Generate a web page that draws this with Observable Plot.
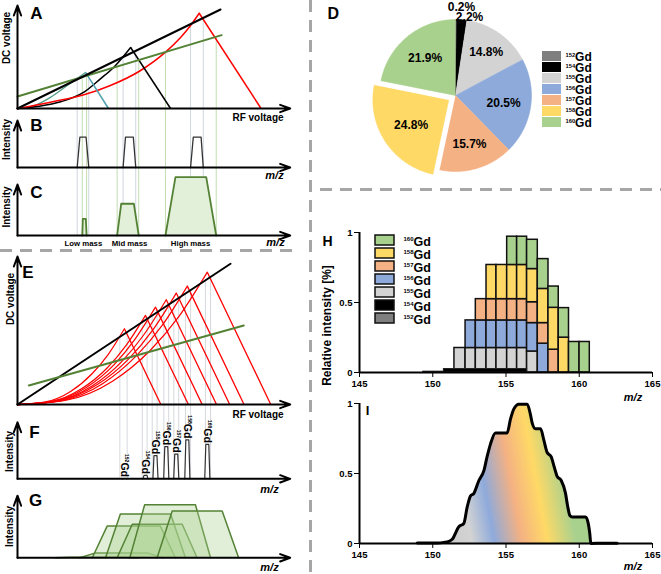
<!DOCTYPE html>
<html><head><meta charset="utf-8">
<script src="https://cdn.jsdelivr.net/npm/d3@7"></script>
<script src="https://cdn.jsdelivr.net/npm/@observablehq/plot@0.6"></script>
<style>
body{margin:0;background:#fff;}
#fig{position:relative;width:661px;height:574px;overflow:hidden;background:#fff;font-family:"Liberation Sans",Arial,sans-serif;}
#fig svg{position:absolute;overflow:visible;}
.dh{position:absolute;height:3px;background:repeating-linear-gradient(to right,#a6a6a6 0 12px,transparent 12px 20px);}
.dv{position:absolute;width:3px;background:repeating-linear-gradient(to bottom,#a6a6a6 0 12px,transparent 12px 20px);}
</style></head>
<body><div id="fig">
<div class="dh" style="left:0;top:249px;width:300px"></div>
<div class="dv" style="left:309px;top:0;height:574px"></div>
<div class="dh" style="left:320px;top:188px;width:341px"></div>
</div>
<script>
// ---------------- data ----------------
const isotopes = ["152Gd","154Gd","155Gd","156Gd","157Gd","158Gd","160Gd"];
const massNumbers = ["152","154","155","156","157","158","160"];
const abundance = [0.2, 2.2, 14.8, 20.5, 15.7, 24.8, 21.9];
const isoColor = {"152Gd":"#7f7f7f","154Gd":"#000000","155Gd":"#d3d3d3","156Gd":"#8eaadb","157Gd":"#f4b183","158Gd":"#ffd966","160Gd":"#a9d18e"};

// Panel A (RF voltage units, DC voltage units)
const aScanLine = [[0,0],[75.2,96.1]];
const aMassLine = [[0,11.7],[75.6,71.2]];
const aLowRise = [[0,0],[6,2.5],[12.2,10.8],[18.4,22.3],[25.2,35]];
const aMidRise = [[0,0],[8,2.2],[16,6.5],[24.6,15.9],[30.7,28.8],[35.7,40.1],[41.9,59.2]];
const aHighRise = [[0,0],[12.2,6.1],[24.6,13.3],[34.4,22.3],[45.6,36.9],[54.8,54.7],[60.4,69],[64.1,80.6],[67.3,92.5]];
const aFallEnd = [33.7, 56.7, 90.2];
const narrowGuideX = [22.1,26.4,39.1,43.8,64.1,68.8];
const narrowGuideTop = [28.2,33.7,50.0,56.0,81.9,87.9];
const wideGuideX = [24.0,25.6,36.9,44.9,54.8,73.6];
const wideGuideTop = [30.6,31.9,40.7,47.0,54.8,69.6];
// Panel B / C windows [base-left, top-left, top-right, base-right]
const bWindows = [[22.1,23.1,25.4,26.4],[39.1,40.0,42.9,43.8],[64.1,65.1,68.0,68.8]];
const bHeight = [64.5,64.5,64.5];
const cWindows = [[24.0,24.2,25.3,25.6],[36.9,38.4,43.1,44.9],[54.8,58.5,69.9,73.6]];
const cHeight = [32.7,62.2,114.3];
const cLabels = ["Low mass","Mid mass","High mass"];
const cLabelX = [24.4,41.5,64.1];

// Panel E
const eScanLine = [[0,0],[78.9,97]];
const eMassLine = [[4.2,13.1],[83.8,54.5]];
const eApexU = [39.6,47.4,51.1,55.1,58.8,62.9,70.3];
const eApexV = [52.2,61.4,67.1,72.2,76.8,81.6,91.2];
const eEndU = [53.1,63.3,68.4,73.7,78.6,83.9,93.8];
const eRise = [
  [[0,0],[9.9,1.6],[19.8,9.2],[27.7,21.4],[33.7,34.8],[39.6,52.2]],
  [[0,0],[11.9,1.9],[23.7,10.9],[33.2,25.2],[40.3,40.9],[47.4,61.4]],
  [[0,0],[12.8,2.1],[25.6,11.9],[35.8,27.5],[43.4,44.7],[51.1,67.1]],
  [[0,0],[13.8,2.2],[27.6,12.8],[38.6,29.6],[46.8,48.1],[55.1,72.2]],
  [[0,0],[14.7,2.4],[29.4,13.6],[41.2,31.5],[50,51.1],[58.8,76.8]],
  [[0,0],[15.7,2.5],[31.5,14.4],[44,33.5],[53.5,54.3],[62.9,81.6]],
  [[0,0],[17.6,2.8],[35.2,16.1],[49.2,37.4],[59.8,60.7],[70.3,91.2]]
];
const eGuideX = [37.9,40.6,46.2,48.0,49.9,51.7,54.2,56.0,57.9,59.7,62.2,64.1,69.6,71.5];
const eGuideTop = [46.9,50.3,57.2,59.4,61.8,64.0,67.1,69.3,71.7,73.9,77.0,79.4,86.2,88.5];
// Panel G windows
const gWindows = [[13.9,19.5,39.3,44.8],[23.1,28.6,48.4,53.9],[27.7,33.2,52.9,58.5],[32.6,38.1,56.7,62.2],[36.9,42.5,61,66.5],[41.6,47.1,65.9,71.5],[51.7,57.3,75.8,81.9]];

// Panel H (stacked histogram)
const hEdges = [151.48,152.24,152.94,153.67,154.35,155.08,155.76,156.44,157.17,157.9,158.6,159.3,160.02,160.72];
const h155 = [0.175,0.175,0.175,0.175,0.175,0.175,0.175,0.15,0,0,0,0,0];
const h156 = [0,0.197,0.197,0.197,0.197,0.197,0.197,0.203,0.206,0,0,0,0];
const h157 = [0,0,0.152,0.152,0.152,0.152,0.152,0.149,0.147,0.163,0,0,0];
const h158 = [0,0,0,0.244,0.244,0.244,0.244,0.237,0.244,0.299,0.249,0,0];
const h160 = [0,0,0,0,0,0.202,0.202,0.209,0.213,0.152,0.211,0.218,0.218];
const hStrip152 = {x1:149.35, x2:150.76, h:0.006};
const hStrip154 = {x1:150.76, x2:156.44, h:0.025};
const hTicksX = [145,150,155,160,165];
const hTicksY = [0,0.5,1];

// Panel I (smoothed envelope)
const iMz = [148.94,150.3,150.76,151.1,151.33,151.78,152.12,152.35,152.58,152.8,153.15,153.49,153.71,153.94,154.28,155.08,155.31,155.53,155.88,156.45,156.67,156.79,157.01,157.36,157.58,157.81,158.08,158.31,158.49,158.77,159.06,159.22,159.36,159.52,160.43,160.59,160.72,160.79,161.6,162.59];
const iVal = [0.003,0.004,0.008,0.015,0.03,0.12,0.143,0.26,0.34,0.357,0.45,0.52,0.62,0.71,0.79,0.79,0.89,0.96,0.995,0.995,0.92,0.86,0.82,0.82,0.74,0.65,0.62,0.54,0.48,0.45,0.36,0.26,0.2,0.19,0.19,0.155,0.07,0,0.002,0.002];

// pie styling helpers
const pieExplode = [0,0,0,0,0,0.105,0];
const pieLabelR = [1.16,1.04,0.70,0.64,0.66,0.595,0.63];
const pieLabelShift = [0.072,0.1,0,0,0,0,0];

// ---------------- helpers ----------------
const fig = document.getElementById("fig");
const FONT = "'Liberation Sans', Arial, Helvetica, sans-serif";
const svgStyle = {background:"transparent", overflow:"visible", fontFamily:FONT, fontWeight:"bold", fontSize:"10px", color:"black"};
const NS = "http://www.w3.org/2000/svg";
function supify(root){
  root.querySelectorAll("text").forEach(t => {
    const m = /^\{(\d+)\}(.*)$/.exec(t.textContent);
    if (!m) return;
    while (t.firstChild) t.removeChild(t.firstChild);
    const a = document.createElementNS(NS,"tspan");
    a.setAttribute("font-size","0.48em"); a.setAttribute("dy","-0.75em"); a.textContent = m[1];
    const b = document.createElementNS(NS,"tspan");
    b.setAttribute("dy","0.36em"); b.textContent = m[2];
    t.appendChild(a); t.appendChild(b);
  });
}
function place(svg, left, top){ svg.style.position="absolute"; svg.style.left=left+"px"; svg.style.top=top+"px"; supify(svg); fig.appendChild(svg); return svg; }
function label(s, dx, dy, o={}){ return Plot.text([s], {text:d=>d, frameAnchor:"top-left", dx, dy, textAnchor:"middle", lineAnchor:"middle", fontSize:10, fontWeight:"bold", fill:"black", ...o}); }
function axisArrows(xMax, yMax){
  const o = {stroke:"black", strokeWidth:2, headLength:8, headAngle:40};
  return [Plot.arrow([0], {x1:0, y1:0, x2:xMax, y2:0, ...o}), Plot.arrow([0], {x1:0, y1:0, x2:0, y2:yMax, ...o})];
}
const pts = arr => arr.map(p => ({x:p[0], y:p[1]}));
const trap = (w, h, k) => [{k,x:w[0],y:0},{k,x:w[1],y:h},{k,x:w[2],y:h},{k,x:w[3],y:0}];
const XL = {domain:[0,101], range:[17,289.7], axis:null};
const rotT = {rotate:-90, fontSize:10};

// ---------------- Panel A ----------------
const AY = {domain:[-16.5,100], range:[125,5], axis:null};
const aRises = [aLowRise, aMidRise, aHighRise];
const aFalls = aRises.map((r,i) => ({x1:r[r.length-1][0], y1:r[r.length-1][1], x2:aFallEnd[i], y2:0}));
const aFallColor = ["#4e9fae","#000000","#ff0000"];
place(Plot.plot({
  width:300, height:125, margin:0, style:svgStyle, x:XL, y:AY,
  marks:[
    Plot.ruleX(narrowGuideX, {x:d=>d, y1:(d,i)=>narrowGuideTop[i], y2:AY.domain[0], stroke:"#cfd5de", strokeWidth:1}),
    Plot.ruleX(wideGuideX, {x:d=>d, y1:(d,i)=>wideGuideTop[i], y2:AY.domain[0], stroke:"#c3ddb0", strokeWidth:1}),
    Plot.line(pts(aLowRise), {x:"x", y:"y", stroke:"#4f9f88", strokeWidth:1.3, curve:"monotone-x"}),
    Plot.line(pts(aMidRise), {x:"x", y:"y", stroke:"#000", strokeWidth:1.5, curve:"monotone-x"}),
    Plot.line(pts(aHighRise), {x:"x", y:"y", stroke:"#ff0000", strokeWidth:1.5, curve:"monotone-x"}),
    Plot.link(aFalls, {x1:"x1", y1:"y1", x2:"x2", y2:"y2", stroke:(d,i)=>aFallColor[i], strokeWidth:1.5}),
    Plot.line(pts(aMassLine), {x:"x", y:"y", stroke:"#548235", strokeWidth:2}),
    Plot.line(pts(aScanLine), {x:"x", y:"y", stroke:"#000", strokeWidth:2}),
    ...axisArrows(101, 100),
    label("A", 36, 13.5, {fontSize:17}),
    label("DC voltage", 6, 37.5, rotT),
    label("RF voltage", 257.5, 117.5)
  ]
}), 0, 0);

// ---------------- Panel B ----------------
const BY = {domain:[-27.7,89.4], range:[55,0], axis:null};
place(Plot.plot({
  width:300, height:55, margin:0, style:svgStyle, x:XL, y:BY,
  marks:[
    Plot.ruleX(narrowGuideX, {stroke:"#cfd5de", strokeWidth:1}),
    Plot.ruleX(wideGuideX, {stroke:"#c3ddb0", strokeWidth:1}),
    Plot.line(bWindows.flatMap((w,i)=>trap(w,bHeight[i],i)), {x:"x", y:"y", z:"k", stroke:"#333", strokeWidth:1.3}),
    ...axisArrows(101, 100),
    label("B", 36, 0.5, {fontSize:17}),
    label("Intensity", 6, 14, rotT),
    label("m/z", 274, 50, {fontSize:11, fontStyle:"italic"})
  ]
}), 0, 125);

// ---------------- Panel C ----------------
const CY = {domain:[0,107.8], range:[55,0], axis:null};
place(Plot.plot({
  width:300, height:70, margin:0, style:svgStyle, x:XL, y:CY,
  marks:[
    Plot.ruleX(narrowGuideX, {x:d=>d, y1:0, y2:CY.domain[1], stroke:"#cfd5de", strokeWidth:1}),
    Plot.ruleX(wideGuideX, {x:d=>d, y1:0, y2:CY.domain[1], stroke:"#c3ddb0", strokeWidth:1}),
    Plot.line(cWindows.flatMap((w,i)=>trap(w,cHeight[i],i)), {x:"x", y:"y", z:"k", fill:"#e2efd9", stroke:"#548235", strokeWidth:1.8}),
    ...axisArrows(101, 100),
    Plot.text(cLabels, {x:(d,i)=>cLabelX[i], text:d=>d, frameAnchor:"top", dy:62.7, textAnchor:"middle", lineAnchor:"middle", fontSize:7.8, fontWeight:"bold"}),
    label("C", 36, 11.7, {fontSize:17}),
    label("Intensity", 6, 26.5, rotT),
    label("m/z", 275, 61.5, {fontSize:11, fontStyle:"italic"})
  ]
}), 0, 180);

// ---------------- Panel E ----------------
const EY = {domain:[-11,102], range:[170,6], axis:null};
const eRisePts = eRise.flatMap((r,i)=>r.map(p=>({k:i, x:p[0], y:p[1]})));
place(Plot.plot({
  width:300, height:170, margin:0, style:svgStyle, x:XL, y:EY,
  marks:[
    Plot.ruleX(eGuideX, {x:d=>d, y1:(d,i)=>eGuideTop[i], y2:EY.domain[0], stroke:"#d5d8de", strokeWidth:1}),
    Plot.line(eRisePts, {x:"x", y:"y", z:"k", stroke:"#ff0000", strokeWidth:1.2, curve:"monotone-x"}),
    Plot.link(eApexU, {x1:d=>d, y1:(d,i)=>eApexV[i], x2:(d,i)=>eEndU[i], y2:0, stroke:"#ff0000", strokeWidth:1.3}),
    Plot.line(pts(eScanLine), {x:"x", y:"y", stroke:"#000", strokeWidth:2}),
    Plot.line(pts(eMassLine), {x:"x", y:"y", stroke:"#548235", strokeWidth:2}),
    ...axisArrows(101, 102),
    label("E", 27.5, 21.7, {fontSize:17}),
    label("DC voltage", 10, 48.5, rotT),
    label("RF voltage", 257.5, 164)
  ]
}), 0, 250);

// ---------------- Panel F ----------------
const FY = {domain:[-10.6,37.1], range:[75,0], axis:null};
const fPeaks = eApexU.flatMap((c,i)=>trap([c-0.95,c-0.55,c+0.55,c+0.95], abundance[i], i));
place(Plot.plot({
  width:300, height:75, margin:0, style:svgStyle, x:XL, y:FY,
  marks:[
    Plot.ruleX(eGuideX, {x:d=>d, y1:0, y2:FY.domain[1], stroke:"#d5d8de", strokeWidth:1}),
    Plot.line(fPeaks, {x:"x", y:"y", z:"k", fill:"white", stroke:"#333", strokeWidth:1.2}),
    Plot.text(massNumbers, {x:(d,i)=>eApexU[i], y:(d,i)=>abundance[i], text:d=>`{${d}}Gd`, rotate:90, textAnchor:"end", lineAnchor:"middle", dy:-1.5, fontSize:10.5, fontWeight:"bold"}),
    ...axisArrows(101, 36),
    label("F", 34, 12, {fontSize:17}),
    label("Intensity", 9, 31, rotT),
    label("m/z", 269, 68.5, {fontSize:11, fontStyle:"italic"})
  ]
}), 0, 420);

// ---------------- Panel G ----------------
const GY = {domain:[-7.8,29.1], range:[79,0], axis:null};
place(Plot.plot({
  width:300, height:79, margin:0, style:svgStyle, x:XL, y:GY,
  marks:[
    Plot.line(gWindows.flatMap((w,i)=>trap(w,abundance[i],i)), {x:"x", y:"y", z:"k", fill:"#a9d18e", fillOpacity:0.35, stroke:"#548235", strokeWidth:1.5}),
    ...axisArrows(101, 29),
    label("G", 35, 5, {fontSize:17}),
    label("Intensity", 9, 31, rotT),
    label("m/z", 269, 72, {fontSize:11, fontStyle:"italic"})
  ]
}), 0, 495);

// ---------------- Panel D (pie) ----------------
const arcs = d3.pie().sort(null).value(d=>d)(abundance);
const pieRing = [];
arcs.forEach((a,i) => {
  const mid = (a.startAngle + a.endAngle)/2, off = pieExplode[i];
  const ox = off*Math.sin(mid), oy = off*Math.cos(mid), k = isotopes[i];
  pieRing.push({k, x:ox, y:oy});
  const n = Math.max(2, Math.ceil((a.endAngle - a.startAngle)/0.02));
  for (let j=0;j<=n;j++){ const t = a.startAngle + (a.endAngle-a.startAngle)*j/n; pieRing.push({k, x:ox+Math.sin(t), y:oy+Math.cos(t)}); }
});
const pieLabels = arcs.map((a,i) => {
  const mid = (a.startAngle + a.endAngle)/2, r = pieLabelR[i] + pieExplode[i];
  return {x: r*Math.sin(mid) + pieLabelShift[i], y: r*Math.cos(mid), t: abundance[i].toFixed(1) + "%"};
});
place(Plot.plot({
  width:343, height:188, margin:0, style:svgStyle,
  x:{domain:[-1,1], range:[61,213], axis:null}, y:{domain:[-1,1], range:[171,19], axis:null},
  marks:[
    Plot.line(pieRing, {x:"x", y:"y", z:"k", fill:d=>isoColor[d.k], stroke:d=>isoColor[d.k], strokeWidth:0.5}),
    Plot.text(pieLabels, {x:"x", y:"y", text:"t", fontSize:12, fontWeight:"bold"}),
    label("D", 9, 13, {fontSize:16, textAnchor:"start"})
  ]
}), 318, 0);

// D legend
place(Plot.plot({
  width:60, height:78, margin:0, style:svgStyle,
  x:{domain:[0,3], range:[0,57], axis:null},
  y:{type:"band", domain:isotopes, range:[0,78], paddingInner:0.1, paddingOuter:0.05, axis:null},
  marks:[
    Plot.barX(isotopes, {x1:0, x2:1, y:d=>d, fill:d=>isoColor[d]}),
    Plot.text(massNumbers, {x:1, y:(d,i)=>isotopes[i], text:d=>`{${d}}Gd`, textAnchor:"start", dx:4, dy:1, fontSize:12, fontWeight:"bold"})
  ]
}), 542, 50);

// ---------------- Panel H ----------------
const hSeg = {"155Gd":h155, "156Gd":h156, "157Gd":h157, "158Gd":h158, "160Gd":h160};
const hRects = [];
hEdges.slice(0,-1).forEach((x1,j) => {
  let y = 0;
  Object.keys(hSeg).forEach(k => { const h = hSeg[k][j]; if (h > 0) { hRects.push({k, x1, x2:hEdges[j+1], y1:y, y2:y+h}); y += h; } });
});
const hStrips = [{k:"152Gd", ...hStrip152}, {k:"154Gd", ...hStrip154}];
const axisStyle = {...svgStyle, fontSize:"9.5px"};
const xAxisOpt = {domain:[145,165], ticks:hTicksX, tickSize:5, tickPadding:3, label:null, tickFormat:d=>String(d)};
const yAxisOpt = {domain:[0,1], ticks:hTicksY, tickSize:5, tickPadding:2, label:null, tickFormat:d=>String(d)};
place(Plot.plot({
  width:331, height:205, marginLeft:29, marginRight:9, marginTop:42, marginBottom:23, style:axisStyle,
  x:xAxisOpt, y:yAxisOpt,
  marks:[
    Plot.rect(hRects, {x1:"x1", x2:"x2", y1:"y1", y2:"y2", fill:d=>isoColor[d.k], stroke:"#111", strokeWidth:1.5}),
    Plot.rect(hStrips, {x1:"x1", x2:"x2", y1:0, y2:"h", fill:d=>isoColor[d.k], stroke:"#222", strokeWidth:1}),
    Plot.ruleY([0], {stroke:"black", strokeWidth:2}),
    Plot.ruleX([145], {stroke:"black", strokeWidth:2}),
    label("H", -32, 9, {fontSize:14}),
    label("Relative intensity [%]", -32, 93, {rotate:-90, fontSize:12}),
    label("m/z", 273.5, 165, {fontSize:11, fontStyle:"italic"})
  ]
}), 330, 190);

// H legend
const hLegendOrder = isotopes.slice().reverse();
place(Plot.plot({
  width:60, height:94, margin:0, style:svgStyle,
  x:{domain:[0,3], range:[0,57], axis:null},
  y:{type:"band", domain:hLegendOrder, range:[0,93.8], paddingInner:0.25, paddingOuter:0.125, axis:null},
  marks:[
    Plot.barX(hLegendOrder, {x1:0, x2:1, y:d=>d, fill:d=>isoColor[d], stroke:"#111", strokeWidth:1.5}),
    Plot.text(hLegendOrder, {x:1, y:d=>d, text:d=>`{${d.slice(0,3)}}Gd`, textAnchor:"start", dx:9, dy:1, fontSize:12.5, fontWeight:"bold"})
  ]
}), 375, 232);

// ---------------- Panel I ----------------
const iPts = iMz.map((m,i)=>({mz:m, v:iVal[i]}));
const gradStops = [[0,"#cdcdcd"],[0.12,"#d3d3d3"],[0.27,"#8eaadb"],[0.45,"#f4b183"],[0.62,"#ffd966"],[0.81,"#a9d18e"],[1,"#a9d18e"]];
const iSvg = Plot.plot({
  width:331, height:179, marginLeft:29, marginRight:9, marginTop:8, marginBottom:31, style:axisStyle,
  x:xAxisOpt, y:yAxisOpt,
  marks:[
    Plot.areaY(iPts, {x:"mz", y:"v", filter:d=>d.mz>=150.7 && d.mz<=160.8, fill:"#010203", curve:"monotone-x"}),
    Plot.ruleY([0], {stroke:"black", strokeWidth:2}),
    Plot.ruleX([145], {stroke:"black", strokeWidth:2}),
    Plot.line(iPts, {x:"mz", y:"v", stroke:"black", strokeWidth:3, curve:"monotone-x"}),
    label("I", 8, 7, {fontSize:13}),
    label("m/z", 273.5, 163, {fontSize:11, fontStyle:"italic"})
  ]
});
const lg = d3.select(iSvg).insert("defs", ":first-child").append("linearGradient")
  .attr("id","gradI").attr("x1",0).attr("y1",0.587).attr("x2",1).attr("y2",0.413);
gradStops.forEach(s => lg.append("stop").attr("offset", s[0]).attr("stop-color", s[1]));
d3.select(iSvg).selectAll('[fill="#010203"]').attr("fill","url(#gradI)");
place(iSvg, 330, 395);
</script>
</body></html>
